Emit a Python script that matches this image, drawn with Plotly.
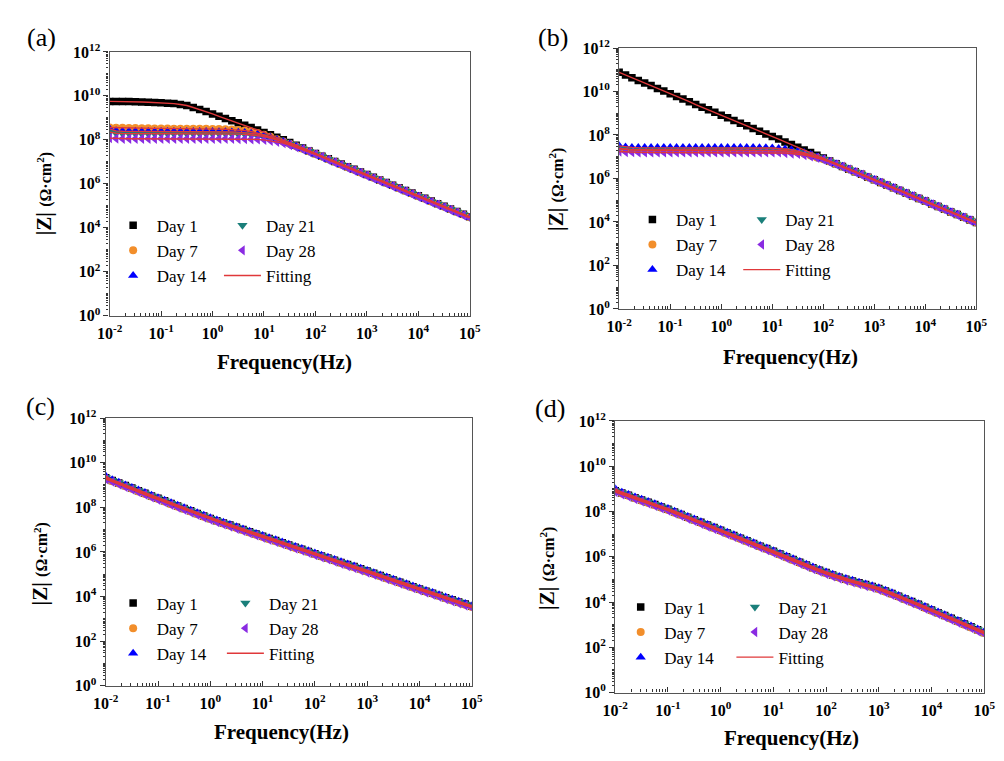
import plotly.graph_objects as go

# ---------------- data (frequency in Hz, |Z| stored as log10 values) -------------
freq_hz = [
    1.0e-2, 1.334e-2, 1.778e-2, 2.371e-2, 3.162e-2, 4.217e-2, 5.623e-2, 7.499e-2,
    1.0e-1, 1.334e-1, 1.778e-1, 2.371e-1, 3.162e-1, 4.217e-1, 5.623e-1, 7.499e-1,
    1.0e0, 1.334e0, 1.778e0, 2.371e0, 3.162e0, 4.217e0, 5.623e0, 7.499e0,
    1.0e1, 1.334e1, 1.778e1, 2.371e1, 3.162e1, 4.217e1, 5.623e1, 7.499e1,
    1.0e2, 1.334e2, 1.778e2, 2.371e2, 3.162e2, 4.217e2, 5.623e2, 7.499e2,
    1.0e3, 1.334e3, 1.778e3, 2.371e3, 3.162e3, 4.217e3, 5.623e3, 7.499e3,
    1.0e4, 1.334e4, 1.778e4, 2.371e4, 3.162e4, 4.217e4, 5.623e4, 7.499e4,
    1.0e5,
]

# panel (a)
a_day1 = [9.75, 9.75, 9.74, 9.74, 9.73, 9.72, 9.71, 9.70, 9.69, 9.67, 9.65, 9.61, 9.56, 9.47, 9.38, 9.29,
          9.18, 9.07, 8.97, 8.87, 8.78, 8.67, 8.56, 8.45, 8.34, 8.23, 8.12, 8.00, 7.88, 7.76, 7.63, 7.49,
          7.38, 7.26, 7.14, 7.02, 6.90, 6.78, 6.66, 6.54, 6.42, 6.30, 6.18, 6.06, 5.94, 5.82, 5.70, 5.58,
          5.46, 5.34, 5.22, 5.10, 4.98, 4.86, 4.74, 4.62, 4.50]
a_day7 = [8.56, 8.55, 8.55, 8.54, 8.54, 8.53, 8.53, 8.52, 8.52, 8.52, 8.51, 8.51, 8.51, 8.50, 8.50, 8.50,
          8.49, 8.49, 8.48, 8.47, 8.45, 8.42, 8.38, 8.31, 8.23, 8.14, 8.03, 7.92, 7.82, 7.71, 7.60, 7.48,
          7.36, 7.24, 7.12, 7.00, 6.88, 6.76, 6.64, 6.52, 6.40, 6.28, 6.16, 6.04, 5.92, 5.80, 5.68, 5.56,
          5.44, 5.32, 5.20, 5.08, 4.96, 4.84, 4.72, 4.60, 4.48]
a_day14 = [8.50, 8.41, 8.39, 8.39, 8.39, 8.38, 8.38, 8.38, 8.38, 8.38, 8.38, 8.38, 8.38, 8.38, 8.38, 8.38,
           8.38, 8.37, 8.37, 8.36, 8.35, 8.33, 8.30, 8.26, 8.20, 8.12, 8.02, 7.93, 7.82, 7.71, 7.60, 7.47,
           7.35, 7.23, 7.11, 6.99, 6.87, 6.75, 6.63, 6.51, 6.39, 6.27, 6.15, 6.03, 5.91, 5.79, 5.67, 5.55,
           5.43, 5.31, 5.19, 5.07, 4.95, 4.83, 4.71, 4.59, 4.47]
a_day21 = [8.35, 8.30, 8.29, 8.29, 8.28, 8.28, 8.28, 8.28, 8.28, 8.28, 8.28, 8.28, 8.28, 8.28, 8.28, 8.28,
           8.28, 8.28, 8.28, 8.27, 8.26, 8.25, 8.23, 8.19, 8.15, 8.08, 8.00, 7.90, 7.80, 7.70, 7.60, 7.48,
           7.36, 7.24, 7.12, 7.00, 6.88, 6.76, 6.64, 6.52, 6.40, 6.28, 6.16, 6.04, 5.92, 5.80, 5.68, 5.56,
           5.44, 5.32, 5.20, 5.08, 4.96, 4.84, 4.72, 4.60, 4.48]
a_day28 = [8.08, 8.06, 8.05, 8.05, 8.05, 8.05, 8.05, 8.05, 8.05, 8.05, 8.05, 8.05, 8.05, 8.05, 8.05, 8.05,
           8.05, 8.05, 8.05, 8.05, 8.04, 8.04, 8.03, 8.02, 8.00, 7.96, 7.91, 7.85, 7.76, 7.66, 7.57, 7.46,
           7.34, 7.23, 7.09, 6.97, 6.85, 6.73, 6.61, 6.49, 6.37, 6.25, 6.13, 6.01, 5.89, 5.77, 5.65, 5.53,
           5.41, 5.29, 5.17, 5.05, 4.93, 4.81, 4.69, 4.57, 4.45]

# panel (b)
b_day1 = [10.88, 10.76, 10.63, 10.51, 10.39, 10.27, 10.14, 10.02, 9.90, 9.77, 9.65, 9.53, 9.40, 9.28, 9.16, 9.04,
          8.91, 8.79, 8.67, 8.54, 8.42, 8.30, 8.17, 8.05, 7.93, 7.81, 7.68, 7.56, 7.44, 7.31, 7.19, 7.07,
          6.94, 6.80, 6.68, 6.55, 6.43, 6.31, 6.19, 6.06, 5.94, 5.82, 5.69, 5.57, 5.45, 5.32, 5.20, 5.08,
          4.96, 4.83, 4.71, 4.59, 4.46, 4.34, 4.22, 4.09, 3.97]
b_day7 = [7.36, 7.33, 7.32, 7.31, 7.30, 7.30, 7.30, 7.30, 7.30, 7.30, 7.30, 7.30, 7.30, 7.30, 7.30, 7.30,
          7.30, 7.30, 7.30, 7.30, 7.30, 7.30, 7.30, 7.30, 7.29, 7.28, 7.26, 7.24, 7.19, 7.14, 7.06, 6.97,
          6.88, 6.78, 6.67, 6.55, 6.43, 6.31, 6.19, 6.06, 5.94, 5.82, 5.69, 5.57, 5.45, 5.32, 5.20, 5.08,
          4.96, 4.83, 4.71, 4.59, 4.46, 4.34, 4.22, 4.09, 3.97]
b_day14 = [7.50, 7.45, 7.43, 7.42, 7.42, 7.42, 7.42, 7.42, 7.42, 7.42, 7.42, 7.42, 7.42, 7.42, 7.42, 7.42,
           7.42, 7.42, 7.42, 7.42, 7.42, 7.42, 7.41, 7.41, 7.40, 7.38, 7.36, 7.32, 7.26, 7.19, 7.10, 6.99,
           6.90, 6.79, 6.68, 6.56, 6.44, 6.32, 6.20, 6.07, 5.95, 5.83, 5.70, 5.58, 5.46, 5.33, 5.21, 5.09,
           4.97, 4.84, 4.72, 4.60, 4.47, 4.35, 4.23, 4.10, 3.98]
b_day21 = [7.38, 7.34, 7.32, 7.32, 7.32, 7.32, 7.32, 7.32, 7.32, 7.32, 7.32, 7.32, 7.32, 7.32, 7.32, 7.32,
           7.32, 7.32, 7.32, 7.32, 7.32, 7.32, 7.32, 7.32, 7.31, 7.29, 7.28, 7.25, 7.20, 7.15, 7.07, 6.98,
           6.89, 6.78, 6.67, 6.55, 6.43, 6.31, 6.19, 6.06, 5.94, 5.82, 5.69, 5.57, 5.45, 5.32, 5.20, 5.08,
           4.96, 4.83, 4.71, 4.59, 4.46, 4.34, 4.22, 4.09, 3.97]
b_day28 = [7.24, 7.22, 7.21, 7.20, 7.20, 7.20, 7.20, 7.20, 7.20, 7.20, 7.20, 7.20, 7.20, 7.20, 7.20, 7.20,
           7.20, 7.20, 7.20, 7.20, 7.20, 7.20, 7.20, 7.20, 7.20, 7.20, 7.17, 7.15, 7.13, 7.08, 7.02, 6.95,
           6.87, 6.76, 6.65, 6.54, 6.41, 6.29, 6.17, 6.04, 5.92, 5.80, 5.67, 5.55, 5.43, 5.30, 5.18, 5.06,
           4.94, 4.81, 4.69, 4.57, 4.44, 4.32, 4.20, 4.07, 3.95]

# panel (c)
c_day1 = [9.32, 9.20, 9.09, 8.97, 8.86, 8.74, 8.63, 8.51, 8.40, 8.29, 8.17, 8.06, 7.95, 7.84, 7.72, 7.61,
          7.50, 7.40, 7.30, 7.20, 7.10, 7.00, 6.90, 6.80, 6.70, 6.60, 6.51, 6.41, 6.31, 6.21, 6.12, 6.02,
          5.92, 5.82, 5.73, 5.63, 5.53, 5.43, 5.34, 5.24, 5.14, 5.04, 4.94, 4.84, 4.74, 4.64, 4.54, 4.44,
          4.34, 4.24, 4.15, 4.05, 3.95, 3.85, 3.76, 3.66, 3.56]
c_day7 = [9.29, 9.17, 9.06, 8.94, 8.83, 8.71, 8.60, 8.48, 8.37, 8.26, 8.14, 8.03, 7.92, 7.81, 7.69, 7.58,
          7.47, 7.37, 7.27, 7.17, 7.07, 6.97, 6.87, 6.77, 6.67, 6.57, 6.48, 6.38, 6.28, 6.18, 6.09, 5.99,
          5.89, 5.79, 5.70, 5.60, 5.50, 5.40, 5.31, 5.21, 5.11, 5.01, 4.91, 4.81, 4.71, 4.61, 4.51, 4.41,
          4.31, 4.21, 4.12, 4.02, 3.92, 3.82, 3.73, 3.63, 3.53]
c_day14 = [9.40, 9.23, 9.12, 9.00, 8.89, 8.77, 8.66, 8.54, 8.43, 8.32, 8.20, 8.09, 7.98, 7.87, 7.75, 7.64,
           7.53, 7.43, 7.33, 7.23, 7.13, 7.03, 6.93, 6.83, 6.73, 6.63, 6.54, 6.44, 6.34, 6.24, 6.15, 6.05,
           5.95, 5.85, 5.76, 5.66, 5.56, 5.46, 5.37, 5.27, 5.17, 5.07, 4.97, 4.87, 4.77, 4.67, 4.57, 4.47,
           4.37, 4.27, 4.18, 4.08, 3.98, 3.88, 3.79, 3.69, 3.59]
c_day21 = [9.33, 9.21, 9.10, 8.98, 8.87, 8.75, 8.64, 8.52, 8.41, 8.30, 8.18, 8.07, 7.96, 7.85, 7.73, 7.62,
           7.51, 7.41, 7.31, 7.21, 7.11, 7.01, 6.91, 6.81, 6.71, 6.61, 6.52, 6.42, 6.32, 6.22, 6.13, 6.03,
           5.93, 5.83, 5.74, 5.64, 5.54, 5.44, 5.35, 5.25, 5.15, 5.05, 4.95, 4.85, 4.75, 4.65, 4.55, 4.45,
           4.35, 4.25, 4.16, 4.06, 3.96, 3.86, 3.77, 3.67, 3.57]
c_day28 = [9.26, 9.14, 9.03, 8.91, 8.80, 8.68, 8.57, 8.45, 8.34, 8.23, 8.11, 8.00, 7.89, 7.78, 7.66, 7.55,
           7.44, 7.34, 7.24, 7.14, 7.04, 6.94, 6.84, 6.74, 6.64, 6.54, 6.45, 6.35, 6.25, 6.15, 6.06, 5.96,
           5.86, 5.76, 5.67, 5.57, 5.47, 5.37, 5.28, 5.18, 5.08, 4.98, 4.88, 4.78, 4.68, 4.58, 4.48, 4.38,
           4.28, 4.18, 4.09, 3.99, 3.89, 3.79, 3.70, 3.60, 3.50]

# panel (d)
d_day1 = [8.92, 8.82, 8.72, 8.61, 8.51, 8.41, 8.31, 8.20, 8.10, 7.98, 7.87, 7.75, 7.64, 7.52, 7.40, 7.29,
          7.17, 7.05, 6.94, 6.82, 6.71, 6.59, 6.47, 6.36, 6.24, 6.12, 6.00, 5.88, 5.76, 5.64, 5.52, 5.41,
          5.30, 5.20, 5.10, 5.01, 4.93, 4.85, 4.77, 4.69, 4.60, 4.49, 4.38, 4.26, 4.14, 4.02, 3.90, 3.77,
          3.65, 3.53, 3.41, 3.28, 3.16, 3.03, 2.91, 2.78, 2.66]
d_day7 = [8.89, 8.79, 8.69, 8.58, 8.48, 8.38, 8.28, 8.17, 8.07, 7.95, 7.84, 7.72, 7.61, 7.49, 7.37, 7.26,
          7.14, 7.02, 6.91, 6.79, 6.68, 6.56, 6.44, 6.33, 6.21, 6.09, 5.97, 5.85, 5.73, 5.61, 5.49, 5.38,
          5.27, 5.17, 5.07, 4.98, 4.90, 4.82, 4.74, 4.66, 4.57, 4.46, 4.35, 4.23, 4.11, 3.99, 3.87, 3.74,
          3.62, 3.50, 3.38, 3.25, 3.13, 3.00, 2.88, 2.75, 2.63]
d_day14 = [9.00, 8.85, 8.75, 8.64, 8.54, 8.44, 8.34, 8.23, 8.13, 8.01, 7.90, 7.78, 7.67, 7.55, 7.43, 7.32,
           7.20, 7.08, 6.97, 6.85, 6.74, 6.62, 6.50, 6.39, 6.27, 6.15, 6.03, 5.91, 5.79, 5.67, 5.55, 5.44,
           5.33, 5.23, 5.13, 5.04, 4.96, 4.88, 4.80, 4.72, 4.63, 4.52, 4.41, 4.29, 4.17, 4.05, 3.93, 3.80,
           3.68, 3.56, 3.44, 3.31, 3.19, 3.06, 2.94, 2.81, 2.69]
d_day21 = [8.93, 8.83, 8.73, 8.62, 8.52, 8.42, 8.32, 8.21, 8.11, 7.99, 7.88, 7.76, 7.65, 7.53, 7.41, 7.30,
           7.18, 7.06, 6.95, 6.83, 6.72, 6.60, 6.48, 6.37, 6.25, 6.13, 6.01, 5.89, 5.77, 5.65, 5.53, 5.42,
           5.31, 5.21, 5.11, 5.02, 4.94, 4.86, 4.78, 4.70, 4.61, 4.50, 4.39, 4.27, 4.15, 4.03, 3.91, 3.78,
           3.66, 3.54, 3.42, 3.29, 3.17, 3.04, 2.92, 2.79, 2.67]
d_day28 = [8.86, 8.76, 8.66, 8.55, 8.45, 8.35, 8.25, 8.14, 8.04, 7.92, 7.81, 7.69, 7.58, 7.46, 7.34, 7.23,
           7.11, 6.99, 6.88, 6.76, 6.65, 6.53, 6.41, 6.30, 6.18, 6.06, 5.94, 5.82, 5.70, 5.58, 5.46, 5.35,
           5.24, 5.14, 5.04, 4.95, 4.87, 4.79, 4.71, 4.63, 4.54, 4.43, 4.32, 4.20, 4.08, 3.96, 3.84, 3.71,
           3.59, 3.47, 3.35, 3.22, 3.10, 2.97, 2.85, 2.72, 2.60]

day_names = ["Day 1", "Day 7", "Day 14", "Day 21", "Day 28"]
panel_labels = ["(a)", "(b)", "(c)", "(d)"]
x_tick_exponents = [-2, -1, 0, 1, 2, 3, 4, 5]
y_label_exponents = [0, 2, 4, 6, 8, 10, 12]

panel_data = [
    [a_day1, a_day7, a_day14, a_day21, a_day28],
    [b_day1, b_day7, b_day14, b_day21, b_day28],
    [c_day1, c_day7, c_day14, c_day21, c_day28],
    [d_day1, d_day7, d_day14, d_day21, d_day28],
]
for pi, series in enumerate(panel_data):
    for si, s in enumerate(series):
        assert len(s) == len(freq_hz), f"panel {pi} series {si} has {len(s)} values"

# ---------------- styling ----------------
W, H = 1004, 761
SERIF = "Liberation Serif"
symbols = ["square", "circle", "triangle-up", "triangle-down", "triangle-left"]
colors = ["#000000", "#f28e2b", "#0000ff", "#1a7f7a", "#8a2be2"]
sizes = [7.5, 8, 9, 9, 9]
fit_color = "#e0383a"

# pixel boxes of each plot area: (left, right, top, bottom)
boxes = [(99, 468, 42, 313), (621, 987, 38, 306), (95, 470, 418, 693), (617, 995, 421, 700)]
# legend positions: (col1 marker x, col2 marker x, first row y)
legend_pos = [(128, 240, 224), (660, 772, 218), (128, 243, 612), (648, 765, 616)]
label_pos = [(29, 27), (553, 27), (28, 406), (550, 408)]
xtitle_pos = [(278, 360), (797, 355), (275, 740), (798, 747)]
ytitle_pos = [(32, 188), (556, 183), (28, 568), (547, 572)]


def px(x):
    return x / W


def py(y):
    return 1 - y / H


fig = go.Figure()
layout = dict(
    width=W, height=H, margin=dict(l=0, r=0, t=0, b=0),
    paper_bgcolor="white", plot_bgcolor="white",
    font=dict(family=SERIF, color="black"),
    annotations=[],
)

for p in range(4):
    n = "" if p == 0 else str(p + 1)
    xa, ya = "x" + n, "y" + n
    leg1 = "legend" if p == 0 else f"legend{2 * p + 1}"
    leg2 = f"legend{2 * p + 2}"
    for si in range(5):
        fig.add_trace(go.Scatter(
            x=freq_hz, y=[10 ** v for v in panel_data[p][si]],
            mode="markers", name=day_names[si],
            marker=dict(symbol=symbols[si], size=sizes[si], color=colors[si], line=dict(width=0)),
            xaxis=xa, yaxis=ya, legend=leg1 if si < 3 else leg2,
        ))
    for si in range(5):
        fig.add_trace(go.Scatter(
            x=freq_hz, y=[10 ** v for v in panel_data[p][si]],
            mode="lines", name="Fitting",
            line=dict(color=fit_color, width=1.4),
            xaxis=xa, yaxis=ya, legend=leg2, showlegend=(si == 4),
        ))

    l, r, t, b = boxes[p]
    axis_common = dict(
        type="log", showline=True, mirror=True, linecolor="#555555", linewidth=1.3,
        showgrid=False, zeroline=False, ticklen=5, tickcolor="#333333",
        tickfont=dict(family=SERIF, size=16, color="black", weight="bold"),
    )
    layout["xaxis" + n] = dict(
        axis_common, domain=[px(l), px(r)], anchor=ya, range=[-2, 5], ticks="inside",
        tickvals=[10 ** e for e in x_tick_exponents],
        ticktext=[f"10<sup>{e}</sup>" for e in x_tick_exponents],
        ticklabelstandoff=3,
        minor=dict(ticks="inside", ticklen=3, dtick="D1", tickcolor="#333333", showgrid=False),
    )
    layout["yaxis" + n] = dict(
        axis_common, domain=[py(b), py(t)], anchor=xa, range=[0, 12], ticks="outside",
        tickvals=[10 ** e for e in y_label_exponents],
        ticktext=[f"10<sup>{e}</sup>" for e in y_label_exponents],
        minor=dict(ticks="outside", ticklen=2, dtick="D1", tickcolor="#333333", showgrid=False),
    )

    m1, m2, ry = legend_pos[p]
    for key, mx in ((leg1, m1), (leg2, m2)):
        layout[key] = dict(
            x=px(mx - 29), y=py(ry - 22), xanchor="left", yanchor="top",
            bgcolor="rgba(0,0,0,0)", borderwidth=0, itemwidth=37,
            font=dict(family=SERIF, size=17, color="black"),
            tracegroupgap=0,
        )

    lx, ly = label_pos[p]
    layout["annotations"].append(dict(
        text=panel_labels[p], x=px(lx), y=py(ly), xref="paper", yref="paper",
        xanchor="center", yanchor="middle",
        showarrow=False, font=dict(family=SERIF, size=26, color="black"),
    ))
    tx, ty = xtitle_pos[p]
    layout["annotations"].append(dict(
        text="Frequency(Hz)", x=px(tx), y=py(ty), xref="paper", yref="paper",
        xanchor="center", yanchor="middle",
        showarrow=False, font=dict(family=SERIF, size=21, color="black", weight="bold"),
    ))
    yx, yy = ytitle_pos[p]
    layout["annotations"].append(dict(
        text="|Z| <span style='font-size:16px'>(Ω·cm<sup>2</sup>)</span>",
        x=px(yx), y=py(yy), xref="paper", yref="paper", textangle=-90,
        xanchor="center", yanchor="middle",
        showarrow=False, font=dict(family=SERIF, size=21, color="black", weight="bold"),
    ))

fig.update_layout(**layout)
fig.write_html("out.html")
